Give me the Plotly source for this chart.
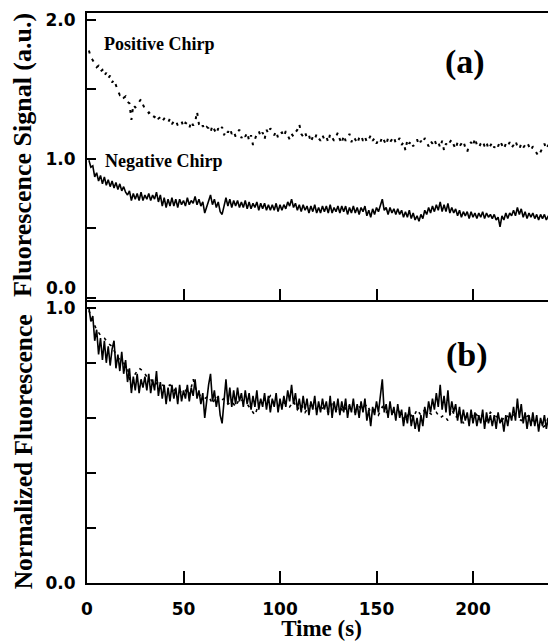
import plotly.graph_objects as go

# Sample times (s)
time = list(range(1, 242))
time2 = list(range(1, 242, 2))

# (a) Positive chirp fluorescence signal (a.u.)
pos = [1.78, 1.73, 1.71, 1.68, 1.66, 1.67, 1.63, 1.64, 1.60, 1.62,
       1.58, 1.60, 1.55, 1.57, 1.52, 1.49, 1.46, 1.47, 1.44, 1.45,
       1.41, 1.40, 1.28, 1.39, 1.37, 1.38, 1.41, 1.43, 1.39, 1.36,
       1.35, 1.33, 1.34, 1.31, 1.30, 1.32, 1.29, 1.30, 1.27, 1.29,
       1.28, 1.26, 1.29, 1.25, 1.27, 1.28, 1.24, 1.26, 1.27, 1.23,
       1.26, 1.25, 1.22, 1.27, 1.24, 1.26, 1.34, 1.25, 1.22, 1.24,
       1.21, 1.23, 1.22, 1.19, 1.24, 1.21, 1.18, 1.22, 1.20, 1.23,
       1.17, 1.21, 1.19, 1.22, 1.18, 1.20, 1.16, 1.19, 1.21, 1.15,
       1.18, 1.16, 1.19, 1.13, 1.17, 1.10, 1.15, 1.18, 1.20, 1.16,
       1.19, 1.14, 1.21, 1.18, 1.22, 1.19, 1.17, 1.20, 1.15, 1.18,
       1.19, 1.16, 1.20, 1.17, 1.14, 1.18, 1.16, 1.19, 1.21, 1.25,
       1.18, 1.16, 1.19, 1.15, 1.17, 1.12, 1.16, 1.14, 1.18, 1.15,
       1.13, 1.17, 1.14, 1.16, 1.12, 1.18, 1.15, 1.13, 1.16, 1.19,
       1.14, 1.11, 1.17, 1.13, 1.15, 1.18, 1.12, 1.16, 1.14, 1.11,
       1.15, 1.17, 1.13, 1.16, 1.12, 1.14, 1.17, 1.13, 1.15, 1.11,
       1.14, 1.12, 1.16, 1.13, 1.10, 1.15, 1.12, 1.14, 1.16, 1.11,
       1.13, 1.15, 1.10, 1.12, 1.06, 1.14, 1.11, 1.13, 1.09, 1.12,
       1.14, 1.10, 1.13, 1.11, 1.15, 1.12, 1.09, 1.13, 1.11, 1.14,
       1.10, 1.12, 1.08, 1.13, 1.06, 1.11, 1.09, 1.12, 1.14, 1.10,
       1.07, 1.12, 1.09, 1.11, 1.13, 1.08, 1.05, 1.10, 1.12, 1.09,
       1.15, 1.10, 1.08, 1.11, 1.13, 1.09, 1.12, 1.07, 1.10, 1.12,
       1.08, 1.11, 1.09, 1.13, 1.10, 1.07, 1.11, 1.09, 1.12, 1.08,
       1.10, 1.13, 1.09, 1.07, 1.11, 1.08, 1.10, 1.12, 1.09, 1.06,
       1.09, 1.07, 1.04, 1.02, 1.05, 1.08, 1.11, 1.07, 1.10, 1.08, 1.09]

# (a) Negative chirp fluorescence signal (a.u.)
neg = [0.99, 0.94, 0.95, 0.87, 0.90, 0.84, 0.88, 0.82, 0.87, 0.81,
       0.85, 0.80, 0.84, 0.79, 0.83, 0.78, 0.82, 0.77, 0.80, 0.76,
       0.74, 0.77, 0.70, 0.75, 0.71, 0.75, 0.70, 0.76, 0.70, 0.74,
       0.71, 0.75, 0.70, 0.74, 0.71, 0.76, 0.69, 0.74, 0.66, 0.72,
       0.65, 0.71, 0.66, 0.72, 0.66, 0.71, 0.65, 0.71, 0.67, 0.70,
       0.66, 0.72, 0.67, 0.70, 0.68, 0.73, 0.67, 0.71, 0.66, 0.69,
       0.61, 0.66, 0.71, 0.74, 0.67, 0.71, 0.65, 0.69, 0.62, 0.60,
       0.66, 0.72, 0.66, 0.71, 0.65, 0.70, 0.66, 0.70, 0.65, 0.69,
       0.65, 0.70, 0.64, 0.69, 0.64, 0.68, 0.65, 0.69, 0.63, 0.68,
       0.64, 0.68, 0.63, 0.67, 0.63, 0.67, 0.63, 0.68, 0.62, 0.67,
       0.63, 0.67, 0.64, 0.69, 0.66, 0.71, 0.65, 0.68, 0.63, 0.67,
       0.62, 0.67, 0.63, 0.66, 0.61, 0.66, 0.62, 0.67, 0.61, 0.65,
       0.61, 0.66, 0.62, 0.66, 0.61, 0.67, 0.61, 0.65, 0.62, 0.66,
       0.61, 0.66, 0.62, 0.66, 0.60, 0.65, 0.61, 0.66, 0.61, 0.65,
       0.60, 0.65, 0.62, 0.66, 0.59, 0.63, 0.58, 0.64, 0.60, 0.65,
       0.62, 0.67, 0.71, 0.63, 0.65, 0.60, 0.65, 0.61, 0.64, 0.60,
       0.64, 0.60, 0.63, 0.58, 0.62, 0.58, 0.63, 0.57, 0.61, 0.56,
       0.59, 0.55, 0.60, 0.57, 0.63, 0.60, 0.65, 0.61, 0.66, 0.62,
       0.67, 0.63, 0.69, 0.62, 0.67, 0.62, 0.68, 0.61, 0.65, 0.61,
       0.64, 0.59, 0.63, 0.58, 0.62, 0.59, 0.62, 0.57, 0.62, 0.58,
       0.61, 0.57, 0.61, 0.58, 0.62, 0.57, 0.61, 0.58, 0.60, 0.57,
       0.60, 0.56, 0.58, 0.51, 0.59, 0.56, 0.61, 0.57, 0.61, 0.59,
       0.63, 0.59, 0.65, 0.60, 0.64, 0.58, 0.62, 0.57, 0.61, 0.58,
       0.61, 0.57, 0.60, 0.56, 0.60, 0.57, 0.60, 0.56, 0.59, 0.56, 0.58]

# (b) Normalized fluorescence, negative chirp
neg_norm = [1.00, 0.95, 0.97, 0.88, 0.92, 0.83, 0.89, 0.81, 0.88, 0.80,
            0.86, 0.79, 0.85, 0.88, 0.78, 0.83, 0.77, 0.84, 0.76, 0.81,
            0.73, 0.78, 0.69, 0.75, 0.70, 0.76, 0.69, 0.74, 0.71, 0.75,
            0.70, 0.76, 0.69, 0.74, 0.70, 0.77, 0.68, 0.73, 0.67, 0.72,
            0.65, 0.71, 0.66, 0.72, 0.67, 0.71, 0.65, 0.72, 0.66, 0.70,
            0.67, 0.72, 0.66, 0.71, 0.68, 0.74, 0.67, 0.70, 0.65, 0.69,
            0.60, 0.67, 0.72, 0.76, 0.66, 0.70, 0.64, 0.68, 0.61, 0.58,
            0.66, 0.74, 0.65, 0.71, 0.64, 0.70, 0.65, 0.71, 0.66, 0.69,
            0.64, 0.70, 0.65, 0.69, 0.63, 0.68, 0.64, 0.70, 0.63, 0.67,
            0.64, 0.69, 0.63, 0.68, 0.62, 0.67, 0.64, 0.69, 0.62, 0.67,
            0.63, 0.68, 0.64, 0.70, 0.66, 0.72, 0.65, 0.69, 0.63, 0.67,
            0.62, 0.68, 0.63, 0.67, 0.61, 0.66, 0.63, 0.68, 0.61, 0.66,
            0.62, 0.67, 0.63, 0.66, 0.61, 0.68, 0.60, 0.66, 0.62, 0.67,
            0.61, 0.66, 0.62, 0.67, 0.60, 0.65, 0.62, 0.67, 0.61, 0.65,
            0.60, 0.66, 0.62, 0.67, 0.59, 0.63, 0.57, 0.64, 0.61, 0.66,
            0.62, 0.68, 0.74, 0.62, 0.65, 0.60, 0.66, 0.61, 0.64, 0.59,
            0.65, 0.60, 0.63, 0.57, 0.62, 0.58, 0.64, 0.57, 0.61, 0.56,
            0.60, 0.55, 0.61, 0.57, 0.64, 0.60, 0.66, 0.62, 0.67, 0.63,
            0.69, 0.64, 0.72, 0.63, 0.68, 0.62, 0.70, 0.61, 0.66, 0.62,
            0.65, 0.59, 0.64, 0.58, 0.63, 0.59, 0.62, 0.57, 0.63, 0.58,
            0.62, 0.57, 0.61, 0.58, 0.63, 0.56, 0.62, 0.58, 0.61, 0.57,
            0.61, 0.56, 0.62, 0.58, 0.60, 0.55, 0.61, 0.57, 0.62, 0.59,
            0.64, 0.59, 0.67, 0.60, 0.65, 0.58, 0.62, 0.56, 0.61, 0.57,
            0.62, 0.57, 0.61, 0.55, 0.60, 0.57, 0.61, 0.56, 0.60, 0.57, 0.59]

# (b) Normalized fluorescence, positive chirp (every 2 s)
pos_norm = [0.99, 0.95, 0.92, 0.90, 0.89, 0.87, 0.86, 0.83, 0.81, 0.80,
            0.78, 0.71, 0.76, 0.78, 0.77, 0.75, 0.74, 0.72, 0.73, 0.72,
            0.71, 0.72, 0.70, 0.71, 0.69, 0.70, 0.68, 0.74, 0.69, 0.68,
            0.67, 0.68, 0.65, 0.68, 0.66, 0.67, 0.65, 0.66, 0.64, 0.67,
            0.66, 0.65, 0.63, 0.61, 0.65, 0.67, 0.66, 0.68, 0.65, 0.64,
            0.66, 0.65, 0.64, 0.66, 0.63, 0.65, 0.62, 0.64, 0.65, 0.63,
            0.63, 0.64, 0.62, 0.65, 0.63, 0.64, 0.62, 0.65, 0.63, 0.62,
            0.64, 0.63, 0.65, 0.62, 0.63, 0.61, 0.64, 0.62, 0.63, 0.62,
            0.63, 0.61, 0.59, 0.62, 0.60, 0.63, 0.61, 0.63, 0.62, 0.61,
            0.62, 0.60, 0.61, 0.59, 0.63, 0.60, 0.62, 0.58, 0.61, 0.60,
            0.62, 0.60, 0.61, 0.59, 0.62, 0.61, 0.60, 0.59, 0.61, 0.60,
            0.61, 0.60, 0.59, 0.60, 0.61, 0.59, 0.58, 0.56, 0.57, 0.60, 0.59]

x_ticks = [0, 50, 100, 150, 200]
x_ticktext = ["0", "50", "100", "150", "200"]
ya_ticks = [0, 0.5, 1.0, 1.5, 2.0]
ya_ticktext = ["", "", "1.0", "", "2.0"]
yb_ticks = [0, 0.2, 0.4, 0.6, 0.8, 1.0]
yb_ticktext = ["0.0", "", "", "", "", "1.0"]

BLACK = "black"
tick_font = dict(family="DejaVu Sans", size=17, color=BLACK, weight="bold")

fig = go.Figure()
fig.add_trace(go.Scatter(x=time, y=pos, mode="lines", xaxis="x", yaxis="y",
                         line=dict(color=BLACK, width=2, dash="3px,6px"),
                         name="Positive Chirp"))
fig.add_trace(go.Scatter(x=time, y=neg, mode="lines", xaxis="x", yaxis="y",
                         line=dict(color=BLACK, width=1.6), name="Negative Chirp"))
fig.add_trace(go.Scatter(x=time2, y=pos_norm, mode="lines", xaxis="x2", yaxis="y2",
                         line=dict(color=BLACK, width=1.6, dash="3px,5px"),
                         name="Positive Chirp (norm.)"))
fig.add_trace(go.Scatter(x=time, y=neg_norm, mode="lines", xaxis="x2", yaxis="y2",
                         line=dict(color=BLACK, width=1.6), name="Negative Chirp (norm.)"))

axis_common = dict(showgrid=False, zeroline=False, showline=True, linecolor=BLACK,
                   linewidth=2, ticks="inside", tickcolor=BLACK, tickwidth=2,
                   automargin=False)

# The page body adds an 8px offset, so the figure is 8px smaller than the window.
fig.update_layout(
    width=548, height=633,
    margin=dict(l=79, r=0, t=5, b=58),
    paper_bgcolor="white", plot_bgcolor="white",
    showlegend=False,
    xaxis=dict(**axis_common, domain=[0, 1], anchor="y", range=[0, 243],
               tickvals=[50, 100, 150, 200], ticklen=11, showticklabels=False,
               mirror=True),
    yaxis=dict(**axis_common, domain=[0.497, 1], anchor="x", range=[-0.014, 2.05],
               tickvals=ya_ticks, ticktext=ya_ticktext, ticklen=9,
               tickfont=tick_font, ticklabelstandoff=6),
    xaxis2=dict(**axis_common, domain=[0, 1], anchor="y2", range=[0, 243], matches="x",
                tickvals=x_ticks, ticktext=x_ticktext, ticklen=12,
                tickfont=tick_font, ticklabelstandoff=10,
                title=dict(text="Time (s)", font=dict(family="Liberation Serif", size=23,
                                                       color=BLACK, weight="bold"),
                           standoff=6)),
    yaxis2=dict(**axis_common, domain=[0, 0.495], anchor="x2", range=[0, 1.025],
                tickvals=yb_ticks, ticktext=yb_ticktext, ticklen=9,
                tickfont=tick_font, ticklabelstandoff=6),
)

label_font = dict(family="Liberation Serif", size=18, color=BLACK, weight="bold")
panel_font = dict(family="Liberation Serif", size=34, color=BLACK, weight="bold")

# Y axis titles
fig.add_annotation(x=-0.1365, y=0.751, xref="paper", yref="paper",
                   text="Fluorescence Signal (a.u.)", textangle=-90, showarrow=False,
                   xanchor="center", yanchor="middle",
                   font=dict(family="Liberation Serif", size=26, color=BLACK, weight="bold"))
fig.add_annotation(x=-0.1365, y=0.231, xref="paper", yref="paper",
                   text="Normalized Fluorescence", textangle=-90, showarrow=False,
                   xanchor="center", yanchor="middle",
                   font=dict(family="Liberation Serif", size=25.5, color=BLACK, weight="bold"))

fig.add_annotation(x=0, y=0, xref="paper", yref="y", text="0.0", showarrow=False,
                   xanchor="right", yanchor="middle", xshift=-9, yshift=10, font=tick_font)
fig.add_annotation(x=7.8, y=1.83, xref="x", yref="y", text="Positive Chirp",
                   showarrow=False, xanchor="left", yanchor="middle", font=label_font)
fig.add_annotation(x=8.3, y=0.985, xref="x", yref="y", text="Negative Chirp",
                   showarrow=False, xanchor="left", yanchor="middle", font=label_font)
fig.add_annotation(x=196, y=1.70, xref="x", yref="y", text="(a)",
                   showarrow=False, xanchor="center", yanchor="middle", font=panel_font)
fig.add_annotation(x=197, y=0.83, xref="x2", yref="y2", text="(b)",
                   showarrow=False, xanchor="center", yanchor="middle", font=panel_font)

fig.write_html("out.html")
